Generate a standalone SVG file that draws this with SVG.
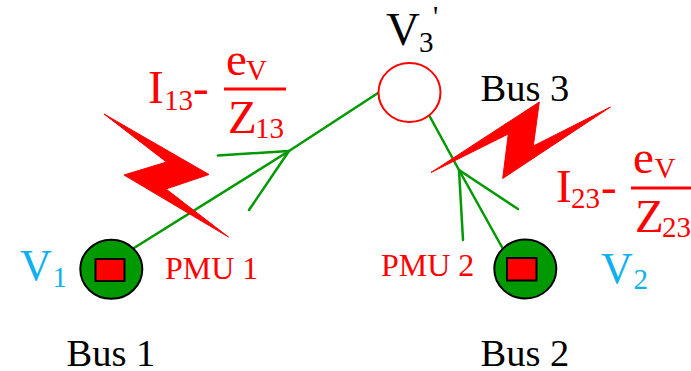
<svg xmlns="http://www.w3.org/2000/svg" width="691" height="371" viewBox="0 0 691 371">
<style>
text{font-family:"Liberation Serif","Times New Roman",serif}
.r{fill:#f00}.k{fill:#000}.b{fill:#0fb0f0}
.l{font-size:47px}.s{font-size:29px}.v{font-size:44px}.bus{font-size:38.5px}.pmu{font-size:32px}
.g{fill:none;stroke:#090;stroke-width:2.5;stroke-linecap:round;stroke-linejoin:round}
.bolt{fill:#f00;stroke:#f00;stroke-width:1;stroke-linejoin:round}
.fr{stroke:#f00;stroke-width:3;fill:none}
.bus-c{fill:#090;stroke:#000;stroke-width:2}
.pm{fill:#f00;stroke:#000;stroke-width:2}
</style>
<rect width="691" height="371" fill="#fff"/>
<g id="connectors">
<polyline class="g" points="134,248 289,151 378,93"/>
<polyline class="g" points="218,155.5 289,151 249,210"/>
<polyline class="g" points="429,115 459,170 503,249"/>
<polyline class="g" points="463,240 459,170 518,209"/>
</g>
<g id="bus3-label"><text class="k bus" x="480.5" y="101">Bus 3</text></g>
<g id="fault1"><polygon class="bolt" points="104,114 209,174.5 166,189 228.5,237 124,175 166.5,162"/></g>
<g id="fault2"><polygon class="bolt" points="431,172.5 539.3,102 533.3,146 610.5,107 502.7,178.5 508.3,134"/></g>
<g id="current13">
<text class="r l" x="148" y="103">I</text><text class="r s" x="164" y="110">13</text><text class="r l" x="193" y="103">-</text>
<text class="r l" x="226" y="75">e</text><text class="r s" x="246" y="80">V</text>
<line class="fr" x1="224" y1="89" x2="286" y2="89"/>
<text class="r l" x="228" y="133">Z</text><text class="r s" x="255" y="138">13</text>
</g>
<g id="current23">
<text class="r l" x="556" y="201.5">I</text><text class="r s" x="571" y="208">23</text><text class="r l" x="601" y="201.5">-</text>
<text class="r l" x="633" y="172.5">e</text><text class="r s" x="654.5" y="178">V</text>
<line class="fr" x1="631" y1="188" x2="691" y2="188"/>
<text class="r l" x="635" y="231.5">Z</text><text class="r s" x="662" y="237">23</text>
</g>
<g id="bus3">
<ellipse cx="409.5" cy="92.5" rx="31" ry="29.5" fill="#fff" stroke="#f00" stroke-width="2"/>
<text class="k l" x="386" y="45">V</text><text class="k s" x="419" y="52">3</text><text class="k s" x="433" y="26">'</text>
</g>
<g id="bus1">
<ellipse class="bus-c" cx="111.3" cy="269.3" rx="31" ry="29.5"/>
<rect class="pm" x="95.5" y="259" width="29" height="22"/>
<text class="b v" x="20" y="280">V</text><text class="b s" x="52.5" y="287">1</text>
<text class="k bus" x="66.5" y="366">Bus 1</text>
<text class="r pmu" x="165" y="279">PMU 1</text>
</g>
<g id="bus2">
<ellipse class="bus-c" cx="525.3" cy="269" rx="31" ry="29.5"/>
<rect class="pm" x="507" y="258" width="29.5" height="22.5"/>
<text class="b v" x="601" y="283">V</text><text class="b s" x="633.5" y="289">2</text>
<text class="k bus" x="480.5" y="366">Bus 2</text>
<text class="r pmu" x="381" y="276">PMU 2</text>
</g>
</svg>
